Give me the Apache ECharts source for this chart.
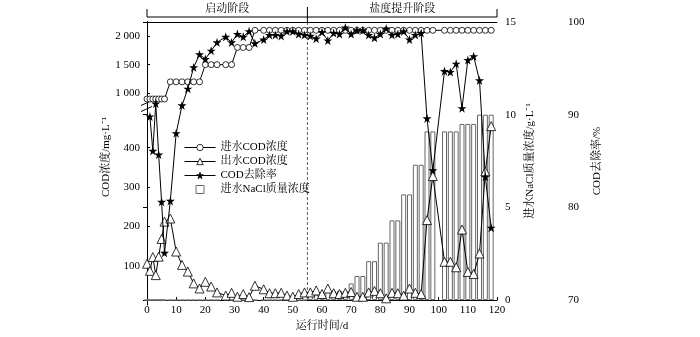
<!DOCTYPE html>
<html><head><meta charset="utf-8">
<script src="https://cdn.jsdelivr.net/npm/echarts@6/dist/echarts.min.js"></script>
<style>html,body{margin:0;padding:0;background:#fff}#c{width:700px;height:337px}</style>
</head><body><div id="c"></div>
<script>
// ---- data ----
const days = [0,1,2,3,4,5,6,8,10,12,14,16,18,20,22,24,27,29,31,33,35,37,40,42,44,46,48,50,52,54,56,58,60,62,64,66,68,70,72,74,76,78,80,82,84,86,88,90,92,94,96,98,102,104,106,108,110,112,114,116,118];
const influentCOD = [900,900,900,900,900,900,900,1200,1200,1200,1200,1200,1200,1500,1500,1500,1500,1500,1800,1800,1800,2100,2100,2100,2100,2100,2100,2100,2100,2100,2100,2100,2100,2100,2100,2100,2100,2100,2100,2100,2100,2100,2100,2100,2100,2100,2100,2100,2100,2100,2100,2100,2100,2100,2100,2100,2100,2100,2100,2100,2100];
const effluentCOD = [105,87,122,76,123,168,212,220,136,102,85,55,42,59,47,32,24,31,21,28,20,49,40,30,30,31,24,21,28,32,32,37,28,42,30,28,31,33,21,21,32,36,30,17,31,30,24,42,31,28,216,328,110,110,96,192,84,79,131,340,455];
const removalRate = [null,89.8,86.1,91.2,85.7,80.6,75.1,80.7,88.0,91.0,92.8,95.1,96.5,96.0,96.9,97.8,98.4,97.8,98.7,98.4,99.0,97.7,98.1,98.6,98.6,98.5,99.0,99.0,98.7,98.6,98.5,98.2,98.9,98.0,98.8,98.7,99.4,98.7,99.1,99.1,98.6,98.3,98.7,99.3,98.6,98.7,99.0,98.1,98.6,98.8,89.6,84.0,94.7,94.6,95.5,90.7,95.9,96.3,93.7,83.3,77.8];
const naclConc = [0,0,0,0,0,0,0,0,0,0,0,0,0,0,0,0,0,0,0,0,0,0,0,0,0,0,0,0,0,0,0.3,0.3,0.3,0.5,0.5,0.5,0.5,0.9,1.3,1.3,2.1,2.1,3.1,3.1,4.3,4.3,5.7,5.7,7.3,7.3,9.1,9.1,9.1,9.1,9.1,9.5,9.5,9.5,10,10,10];
const upperCodTicks = [1000,1500,2000];
const lowerCodTicks = [100,200,300,400];
const phaseNames = ['启动阶段','盐度提升阶段'];
const phaseSplitDay = 55;
const seriesNames = ['进水COD浓度','出水COD浓度','COD去除率','进水NaCl质量浓度'];

const FONT = "'Liberation Serif','Noto Serif CJK SC','Noto Sans CJK SC',serif";
const pair = arr => days.map((d,i)=>[d, arr[i]]);
const txt = {color:'#000', fontSize:11, fontFamily:FONT};
const axLine = {show:true, lineStyle:{color:'#000', width:1}};
const STAR = 'path://M50,0 L61.8,36.2 L100,36.2 L69.1,58.8 L80.9,95.1 L50,72.7 L19.1,95.1 L30.9,58.8 L0,36.2 L38.2,36.2 Z';

const chart = echarts.init(document.getElementById('c'));
chart.setOption({
  animation:false,
  backgroundColor:'#fff',
  textStyle:{fontFamily:FONT},
  grid:[
    {left:147, top:22, width:350, height:283},
    {left:147, top:110, width:350, height:195},
    {left:147, top:22, width:350, height:81}
  ],
  legend:{
    orient:'vertical', left:184, top:142, padding:0, itemWidth:31, itemHeight:8, itemGap:3,
    lineStyle:{width:1}, itemStyle:{borderWidth:0.8},
    textStyle:Object.assign({}, txt),
    data:[{name:seriesNames[0]},{name:seriesNames[1]},{name:seriesNames[2]},
          {name:seriesNames[3], icon:'path://M0,0L10,0L10,10L0,10Z', itemStyle:{borderWidth:1}}]
  },
  xAxis:[
    {gridIndex:0, type:'value', min:0, max:120, interval:10, position:'bottom',
     axisLine:axLine, axisTick:{inside:true, length:3, lineStyle:{color:'#000'}},
     axisLabel:Object.assign({margin:5}, txt), splitLine:{show:false},
     name:'运行时间/d', nameLocation:'middle', nameGap:20, nameTextStyle:Object.assign({}, txt)},
    {gridIndex:1, type:'value', min:0, max:120, show:false},
    {gridIndex:2, type:'value', min:0, max:120, show:false},
    {gridIndex:0, type:'value', min:0, max:120, position:'top', axisLine:axLine,
     axisTick:{show:false}, axisLabel:{show:false}, splitLine:{show:false}}
  ],
  yAxis:[
    {gridIndex:0, type:'value', position:'right', min:0, max:15, interval:5,
     axisLine:axLine, axisTick:{inside:true, length:4, lineStyle:{color:'#000'}},
     axisLabel:Object.assign({margin:8}, txt), splitLine:{show:false},
     name:'进水NaCl质量浓度/g·L⁻¹', nameLocation:'middle', nameRotate:90, nameGap:28,
     nameTextStyle:Object.assign({}, txt)},
    {gridIndex:0, type:'value', position:'right', offset:65, min:70, max:100, interval:10,
     axisLine:axLine, axisTick:{inside:true, length:4, lineStyle:{color:'#000'}},
     axisLabel:Object.assign({margin:6}, txt), splitLine:{show:false},
     name:'COD去除率/%', nameLocation:'middle', nameRotate:90, nameGap:30,
     nameTextStyle:Object.assign({}, txt)},
    {gridIndex:1, type:'value', position:'left', min:0, max:496,
     axisLine:axLine, axisTick:{inside:true, length:3, customValues:lowerCodTicks, lineStyle:{color:'#000'}},
     axisLabel:Object.assign({margin:7, customValues:lowerCodTicks}, txt), splitLine:{show:false}},
    {gridIndex:2, type:'value', position:'left', min:830, max:2245,
     axisLine:axLine, axisTick:{inside:true, length:3, customValues:upperCodTicks, lineStyle:{color:'#000'}},
     axisLabel:Object.assign({margin:7, customValues:upperCodTicks,
       formatter:v=>String(v).replace(/\B(?=(\d{3})+(?!\d))/g,' ')}, txt), splitLine:{show:false}}
  ],
  series:[
    {name:seriesNames[3], type:'bar', xAxisIndex:0, yAxisIndex:0, data:pair(naclConc), barWidth:5, z:1,
     itemStyle:{color:'#fff', borderColor:'#666', borderWidth:1}},
    {name:seriesNames[0], type:'line', xAxisIndex:2, yAxisIndex:3, data:pair(influentCOD), z:3,
     symbol:'circle', symbolSize:6, lineStyle:{color:'#000', width:1},
     itemStyle:{color:'#fff', borderColor:'#000', borderWidth:0.8}},
    {name:seriesNames[1], type:'line', xAxisIndex:1, yAxisIndex:2, data:pair(effluentCOD), z:4,
     symbol:'triangle', symbolSize:9, lineStyle:{color:'#000', width:1},
     itemStyle:{color:'#fff', borderColor:'#000', borderWidth:0.8}},
    {name:seriesNames[2], type:'line', xAxisIndex:0, yAxisIndex:1, data:pair(removalRate), z:5,
     symbol:STAR, symbolSize:9, lineStyle:{color:'#000', width:1},
     itemStyle:{color:'#000', borderColor:'#000', borderWidth:0}}
  ]
});

const px = v => chart.convertToPixel({xAxisIndex:0}, v);
const x0 = px(0), x120 = px(120), xs = px(phaseSplitDay);
const yTop = chart.convertToPixel({yAxisIndex:0}, 15);
const yBot = chart.convertToPixel({yAxisIndex:0}, 0);
const yUpB = chart.convertToPixel({yAxisIndex:3}, 830);
const yLoT = chart.convertToPixel({yAxisIndex:2}, 496);
const hy = yTop - 5;
const ln = (x1,y1,x2,y2,extra) => ({type:'line', silent:true, shape:{x1,y1,x2,y2},
  style:Object.assign({stroke:'#000', lineWidth:1}, extra||{})});
const yMid = (yUpB + yLoT)/2;
chart.setOption({graphic:[
  ln(x0, hy, x120, hy),
  ln(x0, hy-8, x0, hy),
  ln(x120, hy-8, x120, hy),
  ln(xs, hy-10, xs, yTop),
  ln(xs, yTop, xs, yBot, {lineDash:[3,2], stroke:'#333', lineWidth:0.8}),
  {type:'text', silent:true, x:(x0+xs)/2, y:hy-8, style:{text:phaseNames[0], align:'center', verticalAlign:'middle', fontSize:11, fontFamily:FONT, fill:'#000'}},
  {type:'text', silent:true, x:(xs+x120)/2, y:hy-8, style:{text:phaseNames[1], align:'center', verticalAlign:'middle', fontSize:11, fontFamily:FONT, fill:'#000'}},
  {type:'text', silent:true, x:106.5, y:157, rotation:Math.PI/2, style:{text:'COD浓度/mg·L⁻¹', align:'center', verticalAlign:'middle', fontSize:11, fontFamily:FONT, fill:'#000'}},
  ln(x0-6, yMid-1, x0+5, yMid-6),
  ln(x0-6, yMid+5, x0+5, yMid)
]});
</script></body></html>
